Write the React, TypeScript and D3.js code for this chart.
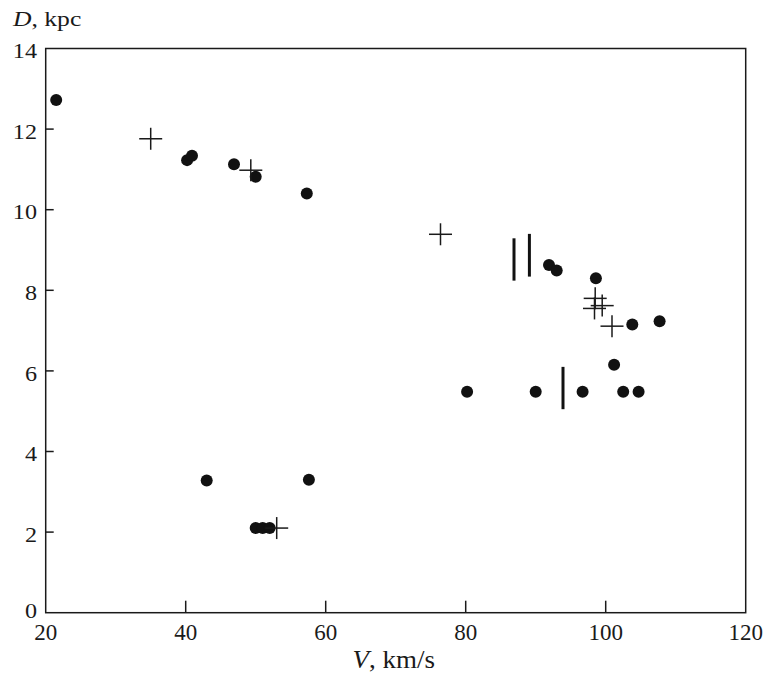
import React, { useEffect, useRef } from 'react';
import * as d3 from 'd3';

// filled circles: [V km/s, D kpc]
const dotV = [21.5, 40.2, 40.9, 46.9, 50.0, 57.3, 91.9, 93.0, 98.6, 103.8, 107.7, 101.2, 80.2, 90.0, 96.7, 102.5, 104.7, 43.0, 57.6, 50.0, 51.0, 52.0];
const dotD = [12.72, 11.23, 11.34, 11.13, 10.82, 10.4, 8.63, 8.49, 8.3, 7.15, 7.23, 6.15, 5.48, 5.48, 5.48, 5.48, 5.48, 3.28, 3.3, 2.1, 2.1, 2.1];

// crosses
const plusV = [35.0, 49.3, 76.4, 98.5, 99.5, 98.4, 100.9, 53.0];
const plusD = [11.76, 10.98, 9.39, 7.8, 7.62, 7.55, 7.11, 2.1];

// vertical bars: V, D bottom, D top
const barV = [86.9, 89.1, 93.9];
const barLo = [8.24, 8.34, 5.05];
const barHi = [9.29, 9.4, 6.1];

const xTicks = [20, 40, 60, 80, 100, 120];
const yTicks = [0, 2, 4, 6, 8, 10, 12, 14];

const W = 767;
const H = 677;
const FONT = '"Liberation Serif", "Times New Roman", serif';
const INK = '#1a1a1a';

const App = () => {
  const svgRef = useRef<SVGSVGElement>(null);

  useEffect(() => {
    document.body.style.margin = '0';
    const svg = d3.select(svgRef.current);
    svg.selectAll('*').remove();

    const left = 45.7, right = 745.7, top = 48.5, bottom = 612.7;
    const x = d3.scaleLinear().domain([20, 120]).range([left, right]);
    const y = d3.scaleLinear().domain([0, 14]).range([bottom, top]);

    // frame
    svg.append('rect')
      .attr('x', left).attr('y', top)
      .attr('width', right - left).attr('height', bottom - top)
      .attr('fill', 'none').attr('stroke', INK).attr('stroke-width', 1.5);

    // ticks, pointing inward
    svg.append('g').selectAll('line')
      .data(xTicks.slice(1, -1))
      .join('line')
      .attr('x1', d => x(d)).attr('x2', d => x(d))
      .attr('y1', bottom).attr('y2', bottom - 12)
      .attr('stroke', INK).attr('stroke-width', 1.5);

    svg.append('g').selectAll('line')
      .data(yTicks.slice(1, -1))
      .join('line')
      .attr('x1', left).attr('x2', left + 8)
      .attr('y1', d => y(d)).attr('y2', d => y(d))
      .attr('stroke', INK).attr('stroke-width', 1.5);

    svg.append('g').selectAll('text')
      .data(xTicks)
      .join('text')
      .attr('x', d => x(d)).attr('y', 639.5)
      .attr('text-anchor', 'middle')
      .attr('font-family', FONT).attr('font-size', 23).attr('fill', INK)
      .text(d => d);

    // y labels are a bit wider in the original, stretch them
    svg.append('g').selectAll('text')
      .data(yTicks)
      .join('text')
      .attr('transform', d => `translate(37,${y(d) + (d === 0 ? 5.6 : 9.6)}) scale(1.15,1)`)
      .attr('text-anchor', 'end')
      .attr('font-family', FONT).attr('font-size', 21).attr('fill', INK)
      .text(d => d);

    // axis titles
    const xt = svg.append('text')
      .attr('transform', `translate(${x(70) - 2},667.5) scale(1.08,1)`)
      .attr('text-anchor', 'middle')
      .attr('font-family', FONT).attr('font-size', 25).attr('fill', INK);
    xt.append('tspan').attr('font-style', 'italic').text('V');
    xt.append('tspan').text(', km/s');

    const yt = svg.append('text')
      .attr('transform', 'translate(13,26) scale(1.22,1)')
      .attr('font-family', FONT).attr('font-size', 21).attr('fill', INK);
    yt.append('tspan').attr('font-style', 'italic').text('D');
    yt.append('tspan').text(', kpc');

    // dots
    svg.append('g').selectAll('circle')
      .data(dotV.map((v, i) => [v, dotD[i]]))
      .join('circle')
      .attr('cx', d => x(d[0])).attr('cy', d => y(d[1]))
      .attr('r', 6)
      .attr('fill', '#111');

    // crosses
    const pg = svg.append('g').attr('stroke', INK).attr('stroke-width', 1.5);
    plusV.forEach((v, i) => {
      const cx = x(v), cy = y(plusD[i]);
      pg.append('line').attr('x1', cx - 11.5).attr('x2', cx + 11.5).attr('y1', cy).attr('y2', cy);
      pg.append('line').attr('x1', cx).attr('x2', cx).attr('y1', cy - 11).attr('y2', cy + 11);
    });

    // bars
    svg.append('g').selectAll('line')
      .data(barV.map((v, i) => [v, barLo[i], barHi[i]]))
      .join('line')
      .attr('x1', d => x(d[0])).attr('x2', d => x(d[0]))
      .attr('y1', d => y(d[1])).attr('y2', d => y(d[2]))
      .attr('stroke', '#111').attr('stroke-width', 3);
  }, []);

  return <svg ref={svgRef} width={W} height={H} style={{ display: 'block', background: '#fff' }} />;
};

export default App;
